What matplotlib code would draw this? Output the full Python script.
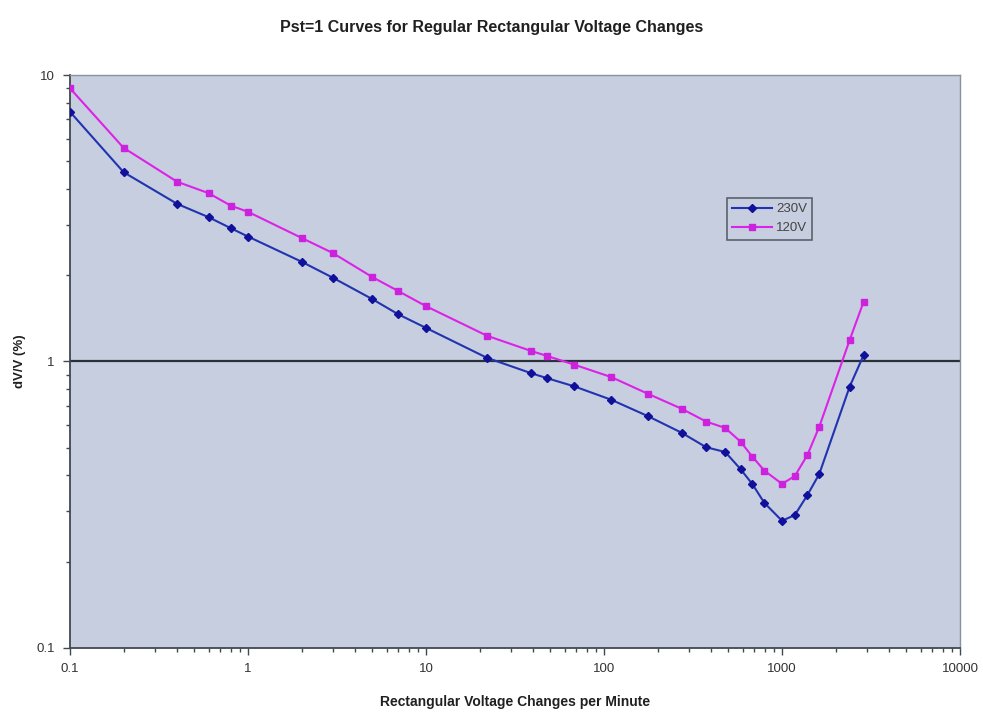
import matplotlib
matplotlib.use("Agg")
import matplotlib.pyplot as plt
from matplotlib.ticker import LogLocator, FixedLocator, NullFormatter

plt.rcParams['font.family'] = ['Liberation Sans', 'DejaVu Sans']

# changes per minute
rate = [0.1, 0.2, 0.4, 0.6, 0.8, 1, 2, 3, 5, 7, 10, 22, 39, 48, 68, 110,
        176, 273, 375, 480, 585, 682, 796, 1000, 1180, 1390, 1620, 2400, 2875]

# dV/V (%) giving Pst = 1
dv_230 = [7.44, 4.58, 3.55, 3.19, 2.92, 2.73, 2.23, 1.96, 1.65, 1.46, 1.31,
          1.03, 0.91, 0.874, 0.819, 0.735, 0.645, 0.564, 0.502, 0.483, 0.421,
          0.373, 0.321, 0.278, 0.291, 0.342, 0.405, 0.817, 1.053]
dv_120 = [8.99, 5.57, 4.24, 3.87, 3.50, 3.33, 2.70, 2.39, 1.97, 1.76, 1.56,
          1.23, 1.088, 1.045, 0.975, 0.882, 0.772, 0.684, 0.617, 0.586, 0.525,
          0.465, 0.416, 0.374, 0.398, 0.472, 0.592, 1.189, 1.617]

x_ticks = [0.1, 1, 10, 100, 1000, 10000]
x_labels = ['0.1', '1', '10', '100', '1000', '10000']
y_ticks = [0.1, 1, 10]
y_labels = ['0.1', '1', '10']

fig = plt.figure(figsize=(9.83, 7.13), dpi=100)
ax = fig.add_axes([0.0712, 0.0912, 0.9054, 0.8036])
ax.set_facecolor('#c6cee0')

ax.set_xscale('log')
ax.set_yscale('log')
ax.set_xlim(0.1, 10000)
ax.set_ylim(0.1, 10)

ax.axhline(1, color='#2a3038', lw=1.6, zorder=2)

ax.plot(rate, dv_230, color='#2233b0', lw=1.5, marker='D', ms=4.5,
        mfc='#10109a', mec='#10109a', label='230V', zorder=3)
ax.plot(rate, dv_120, color='#dd22e8', lw=1.5, marker='s', ms=5,
        mfc='#cc22dd', mec='#cc22dd', label='120V', zorder=3)

ax.xaxis.set_major_locator(FixedLocator(x_ticks))
ax.set_xticklabels(x_labels)
ax.yaxis.set_major_locator(FixedLocator(y_ticks))
ax.set_yticklabels(y_labels)
ax.xaxis.set_minor_locator(LogLocator(base=10, subs=range(2, 10)))
ax.yaxis.set_minor_locator(LogLocator(base=10, subs=range(2, 10)))
ax.xaxis.set_minor_formatter(NullFormatter())
ax.yaxis.set_minor_formatter(NullFormatter())

ax.tick_params(which='major', direction='out', length=5, width=1,
               color='#404850', labelsize=9.5, labelcolor='#333333', pad=6)
ax.tick_params(which='minor', direction='out', length=3, width=1,
               color='#404850')

for side in ['left', 'bottom']:
    ax.spines[side].set_color('#404850')
    ax.spines[side].set_linewidth(1.3)
for side in ['top', 'right']:
    ax.spines[side].set_color('#8a929c')
    ax.spines[side].set_linewidth(1)

ax.set_xlabel('Rectangular Voltage Changes per Minute', fontsize=10,
              fontweight='bold', color='#202020', labelpad=14)
ax.set_ylabel('dV/V (%)', fontsize=9.5, fontweight='bold', color='#202020',
              labelpad=7)
fig.suptitle('Pst=1 Curves for Regular Rectangular Voltage Changes',
             fontsize=11.5, fontweight='bold', color='#202020', y=0.972)

leg = ax.legend(loc='upper left', bbox_to_anchor=(0.731, 0.797),
                fontsize=9.5, frameon=True, fancybox=False, handlelength=3,
                borderpad=0.4, labelspacing=0.5, handletextpad=0.3,
                markerscale=0.9)
leg.get_frame().set_edgecolor('#404850')
leg.get_frame().set_facecolor('#c6cee0')
leg.get_frame().set_linewidth(1.2)
for t in leg.get_texts():
    t.set_color('#444444')

fig.savefig('out.png', dpi=100)
